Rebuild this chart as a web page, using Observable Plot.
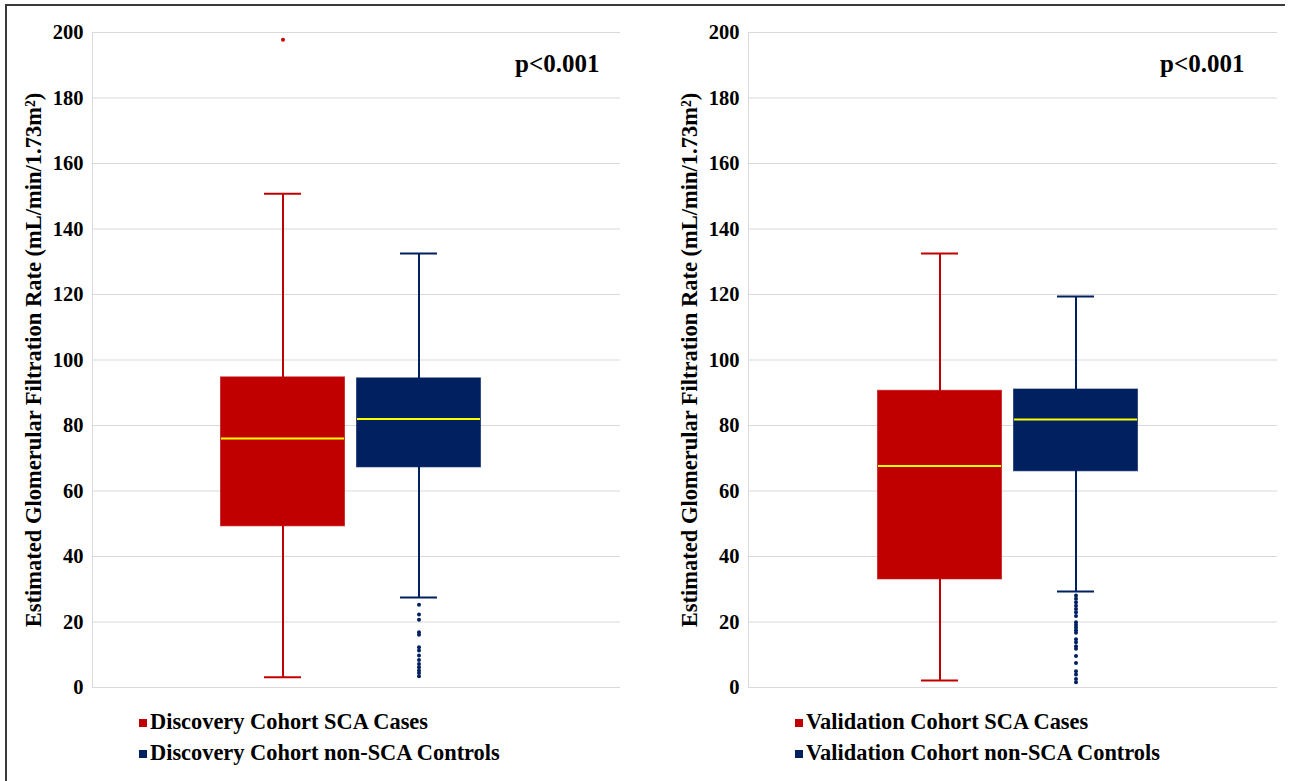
<!DOCTYPE html>
<html>
<head>
<meta charset="utf-8">
<script src="https://cdn.jsdelivr.net/npm/d3@7"></script>
<script src="https://cdn.jsdelivr.net/npm/@observablehq/plot@0.6"></script>
<style>
  body { margin: 0; background: #fff; }
  #frame { position: relative; width: 1289px; height: 781px; overflow: hidden; background: #fff; font-family: "Liberation Serif", "Times New Roman", serif; }
  #topline { position: absolute; left: 5px; top: 4px; width: 1280px; height: 2px; background: #3a3a3a; }
  #leftline { position: absolute; left: 5px; top: 4px; width: 2px; height: 800px; background: #3a3a3a; }
  .panel { position: absolute; top: 0; }
  .legend { position: absolute; top: 706px; font-weight: bold; font-size: 22.4px; color: #000; line-height: 31px; white-space: nowrap; }
  .legend .sw { display: inline-block; width: 8px; height: 8px; margin-right: 3px; vertical-align: 2px; }
</style>
</head>
<body>
<div id="frame">
  <div id="topline"></div>
  <div id="leftline"></div>
  <div id="left" class="panel" style="left:0px"></div>
  <div id="right" class="panel" style="left:656px"></div>
  <div id="legLeft" class="legend" style="left:139px"></div>
  <div id="legRight" class="legend" style="left:795px"></div>
</div>
<script>
// ---- data ----
const discoveryGroups = ["Discovery Cohort SCA Cases", "Discovery Cohort non-SCA Controls"];
const validationGroups = ["Validation Cohort SCA Cases", "Validation Cohort non-SCA Controls"];
const groupColors = ["#C00000", "#002060"];
const yTicks = [0, 20, 40, 60, 80, 100, 120, 140, 160, 180, 200];
const yLabel = "Estimated Glomerular Filtration Rate (mL/min/1.73m²)";
const pLabel = "p<0.001";

const discoveryMin = [3.1, 27.5];
const discoveryQ1 = [49.2, 67.2];
const discoveryMedian = [76.0, 82.0];
const discoveryQ3 = [94.7, 94.4];
const discoveryMax = [150.8, 132.5];
const discoveryCaseOutliers = [197.8];
const discoveryControlOutliers = [25.3, 22.3, 20.7, 16.9, 16.1, 12.3, 11.3, 9.8, 8.4, 7.2, 6.2, 5.2, 4.4, 3.4];

const validationMin = [2.1, 29.3];
const validationQ1 = [33.0, 66.0];
const validationMedian = [67.6, 81.8];
const validationQ3 = [90.6, 91.0];
const validationMax = [132.5, 119.4];
const validationCaseOutliers = [];
const validationControlOutliers = [28.1, 27.1, 26.0, 25.0, 24.0, 23.0, 21.8, 19.9, 19.1, 18.3, 17.5, 16.7, 14.7, 13.8, 12.6, 11.8, 9.6, 7.5, 5.0, 4.0, 2.6, 1.6];

function panel(groups, mn, q1, med, q3, mx, caseOut, ctrlOut, width, marginRight, pdx) {
  const idx = [0, 1];
  const outliers = [
    ...caseOut.map(v => ({g: groups[0], v, c: groupColors[0]})),
    ...ctrlOut.map(v => ({g: groups[1], v, c: groupColors[1]}))
  ];
  const gx = i => groups[i];
  const col = i => groupColors[i];
  return Plot.plot({
    width,
    height: 700,
    marginTop: 32,
    marginBottom: 13,
    marginLeft: 92,
    marginRight,
    style: {fontFamily: "'Liberation Serif', 'Times New Roman', serif", fontWeight: "bold", fontSize: "20px", color: "#000", background: "transparent"},
    x: {domain: groups, axis: null, paddingInner: 0.084, paddingOuter: 0.976, align: 0.48},
    y: {domain: [0, 200], axis: null},
    marks: [
      Plot.gridY(yTicks, {stroke: "#d9d9d9", strokeOpacity: 1, strokeWidth: 1}),
      Plot.frame({anchor: "left", stroke: "#d9d9d9", strokeOpacity: 1}),
      Plot.axisY(yTicks, {tickSize: 0, tickPadding: 9, fontSize: 20.5, fontWeight: "bold", label: null, fill: "#000"}),
      Plot.ruleX(idx, {x: gx, y1: mn, y2: mx, stroke: col, strokeWidth: 2}),
      Plot.barY(idx, {x: gx, y1: q1, y2: q3, fill: col, stroke: col, strokeOpacity: 0.6, strokeWidth: 1, insetLeft: 0.5, insetRight: 0.5}),
      Plot.tickY(idx, {x: gx, y: med, stroke: "#FFFF00", strokeWidth: 2, inset: 1}),
      Plot.tickY(idx, {x: gx, y: mn, stroke: col, strokeWidth: 2, inset: 44}),
      Plot.tickY(idx, {x: gx, y: mx, stroke: col, strokeWidth: 2, inset: 44}),
      Plot.dot(outliers, {x: "g", y: "v", r: 2, fill: "c", stroke: null}),
      Plot.text([pLabel], {frameAnchor: "right", y: () => 190, dx: pdx, dy: -1, textAnchor: "end", fontSize: 25, fontWeight: "bold", fill: "#000"}),
      Plot.text([yLabel], {frameAnchor: "left", dx: -59, rotate: -90, textAnchor: "middle", lineAnchor: "middle", fontSize: 22.5, fontWeight: "bold", fill: "#000"})
    ]
  });
}

function legend(el, groups) {
  groups.forEach((g, i) => {
    const row = document.createElement("div");
    const sw = document.createElement("span");
    sw.className = "sw";
    sw.style.background = groupColors[i];
    row.appendChild(sw);
    row.appendChild(document.createTextNode(g));
    el.appendChild(row);
  });
}

document.getElementById("left").appendChild(
  panel(discoveryGroups, discoveryMin, discoveryQ1, discoveryMedian, discoveryQ3, discoveryMax, discoveryCaseOutliers, discoveryControlOutliers, 656, 36, -21));
document.getElementById("right").appendChild(
  panel(validationGroups, validationMin, validationQ1, validationMedian, validationQ3, validationMax, validationCaseOutliers, validationControlOutliers, 633, 12, -33));
legend(document.getElementById("legLeft"), discoveryGroups);
legend(document.getElementById("legRight"), validationGroups);
</script>
</body>
</html>
